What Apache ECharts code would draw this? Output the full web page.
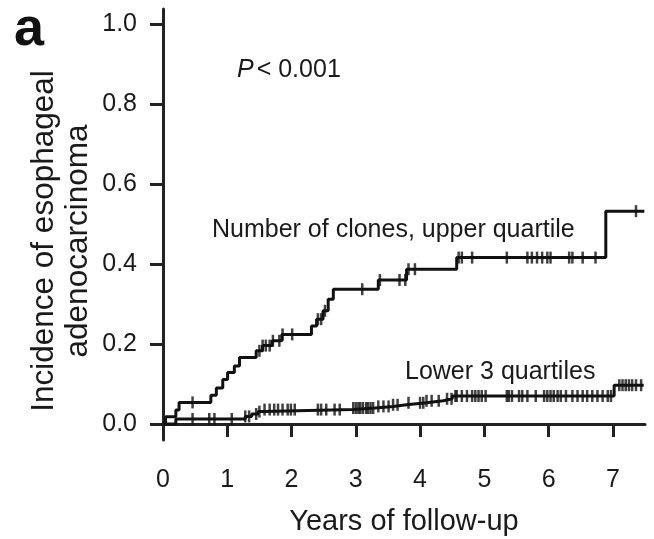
<!DOCTYPE html>
<html>
<head>
<meta charset="utf-8">
<script src="https://cdn.jsdelivr.net/npm/echarts@6/dist/echarts.min.js"></script>
<style>
  html, body { margin: 0; padding: 0; background: #fff; }
  #chart { width: 654px; height: 539px; }
</style>
</head>
<body>
<div id="chart"></div>
<script>
// ---- Data ----
// Upper quartile (number of clones): event times (years) and cumulative incidence after each step
var upperTimes  = [0, 0.04, 0.20, 0.25, 0.745, 0.83, 0.93, 1.005, 1.11, 1.19, 1.45, 1.55, 1.70, 1.85, 2.31, 2.39, 2.49, 2.57, 2.65, 3.35, 3.79, 4.57, 6.89, 7.49];
var upperValues = [0, 0.018, 0.035, 0.054, 0.072, 0.090, 0.111, 0.129, 0.145, 0.166, 0.183, 0.196, 0.208, 0.224, 0.245, 0.262, 0.283, 0.312, 0.337, 0.360, 0.387, 0.416, 0.532, 0.532];
var upperCensor = [0.46, 1.50, 1.55, 1.60, 1.66, 1.71, 1.81, 1.86, 2.01, 2.41, 2.46, 2.52, 3.10, 3.375, 3.68, 3.77, 3.82, 3.92, 4.60, 4.65, 4.81, 5.35, 5.67, 5.74, 5.82, 5.90, 5.98, 6.03, 6.32, 6.37, 6.53, 6.73, 7.36];

// Lower 3 quartiles
var lowerTimes  = [0, 0.20, 1.28, 1.38, 1.48, 1.56, 2.96, 3.30, 3.58, 3.79, 4.10, 4.36, 4.50, 7.02, 7.48];
var lowerValues = [0, 0.0125, 0.019, 0.025, 0.031, 0.036, 0.040, 0.044, 0.048, 0.053, 0.058, 0.063, 0.070, 0.097, 0.097];
var lowerCensor = [0.46, 0.72, 0.80, 1.07, 1.28, 1.34, 1.45, 1.50, 1.58, 1.66, 1.73, 1.79, 1.86, 1.94, 1.99, 2.05, 2.41, 2.46, 2.54, 2.67, 2.75, 2.96, 3.00, 3.04, 3.07, 3.11, 3.16, 3.19, 3.23, 3.27, 3.35, 3.43, 3.51, 3.58, 3.65, 3.82, 4.00, 4.05, 4.10, 4.18, 4.29, 4.42, 4.49, 4.55, 4.57, 4.65, 4.73, 4.81, 4.86, 4.91, 4.96, 5.02, 5.35, 5.38, 5.43, 5.54, 5.59, 5.67, 5.80, 5.93, 5.98, 6.03, 6.08, 6.14, 6.19, 6.27, 6.37, 6.45, 6.53, 6.60, 6.68, 6.76, 6.84, 6.92, 6.97, 7.10, 7.15, 7.20, 7.25, 7.30, 7.36, 7.44];

var xTicks = [0, 1, 2, 3, 4, 5, 6, 7];
var yTicks = [0, 0.2, 0.4, 0.6, 0.8, 1.0];

var seriesNames = ['Number of clones, upper quartile', 'Lower 3 quartiles'];
var pText = '< 0.001';
var xTitle = 'Years of follow-up';
var yTitleLines = ['Incidence of esophageal', 'adenocarcinoma'];
var panelLetter = 'a';

// ---- helpers ----
function pairs(ts, vs) { return ts.map(function (t, i) { return [t, vs[i]]; }); }
function stepValue(ts, vs, t) {
  var v = vs[0];
  for (var i = 0; i < ts.length; i++) { if (ts[i] <= t) v = vs[i]; }
  return v;
}
function censorPts(cs, ts, vs) { return cs.map(function (t) { return [t, stepValue(ts, vs, t)]; }); }

var FONT = '"Liberation Sans", Arial, Helvetica, sans-serif';
var INK = '#1a1a1a';
var LINE = '#111';

var chart = echarts.init(document.getElementById('chart'), null, { renderer: 'canvas' });
chart.setOption({
  animation: false,
  backgroundColor: '#fff',
  grid: { left: 163, right: 9, top: 9, bottom: 99, containLabel: false, outerBoundsMode: 'none' },
  xAxis: {
    type: 'value', min: 0, max: 7.5,
    axisLine: { show: true, lineStyle: { color: '#222', width: 3 } },
    axisTick: { show: true, length: 13, lineStyle: { color: '#222', width: 3 }, customValues: xTicks },
    axisLabel: { show: true, customValues: xTicks, margin: 28, fontSize: 25, color: INK, fontFamily: FONT,
      formatter: function (v) { return String(v); } },
    splitLine: { show: false },
    name: xTitle, nameLocation: 'middle', nameGap: 67,
    nameTextStyle: { fontSize: 29, color: INK, fontFamily: FONT }
  },
  yAxis: {
    type: 'value', min: -0.04, max: 1.0375,
    axisLine: { show: true, lineStyle: { color: '#222', width: 3 } },
    axisTick: { show: true, length: 13, lineStyle: { color: '#222', width: 3 }, customValues: yTicks },
    axisLabel: { show: true, customValues: yTicks, margin: 26, fontSize: 25, color: INK, fontFamily: FONT,
      formatter: function (v) { return v.toFixed(1); } },
    splitLine: { show: false }
  },
  series: [
    { name: seriesNames[0], type: 'line', step: 'end', data: pairs(upperTimes, upperValues),
      showSymbol: false, lineStyle: { color: LINE, width: 3 }, z: 3 },
    { name: seriesNames[1], type: 'line', step: 'end', data: pairs(lowerTimes, lowerValues),
      showSymbol: false, lineStyle: { color: LINE, width: 3 }, z: 3 },
    { type: 'scatter', data: censorPts(upperCensor, upperTimes, upperValues),
      symbol: 'rect', symbolSize: [2.5, 12], itemStyle: { color: LINE }, z: 4 },
    { type: 'scatter', data: censorPts(lowerCensor, lowerTimes, lowerValues),
      symbol: 'rect', symbolSize: [2.5, 12], itemStyle: { color: LINE }, z: 4 }
  ],
  graphic: [
    { type: 'text', left: 14, top: 3,
      style: { text: panelLetter, font: 'bold 54px ' + FONT, fill: '#111' } },
    { type: 'text', x: 237, y: 70,
      style: { text: '{i|P}' + pText, verticalAlign: 'middle', fill: INK,
        font: '25px ' + FONT,
        rich: { i: { fontStyle: 'italic', fontSize: 25, fontFamily: FONT, fill: INK, padding: [0, 3, 0, 0] } } } },
    { type: 'text', x: 212, y: 230,
      style: { text: seriesNames[0], verticalAlign: 'middle', fill: INK, font: '25px ' + FONT } },
    { type: 'text', x: 405, y: 372,
      style: { text: seriesNames[1], verticalAlign: 'middle', fill: INK, font: '25px ' + FONT } },
    { type: 'text', x: 61, y: 241, rotation: Math.PI / 2,
      style: { text: yTitleLines.join('\n'), align: 'center', verticalAlign: 'middle',
        fill: INK, font: '31.5px ' + FONT, lineHeight: 34 } }
  ]
});
</script>
</body>
</html>
